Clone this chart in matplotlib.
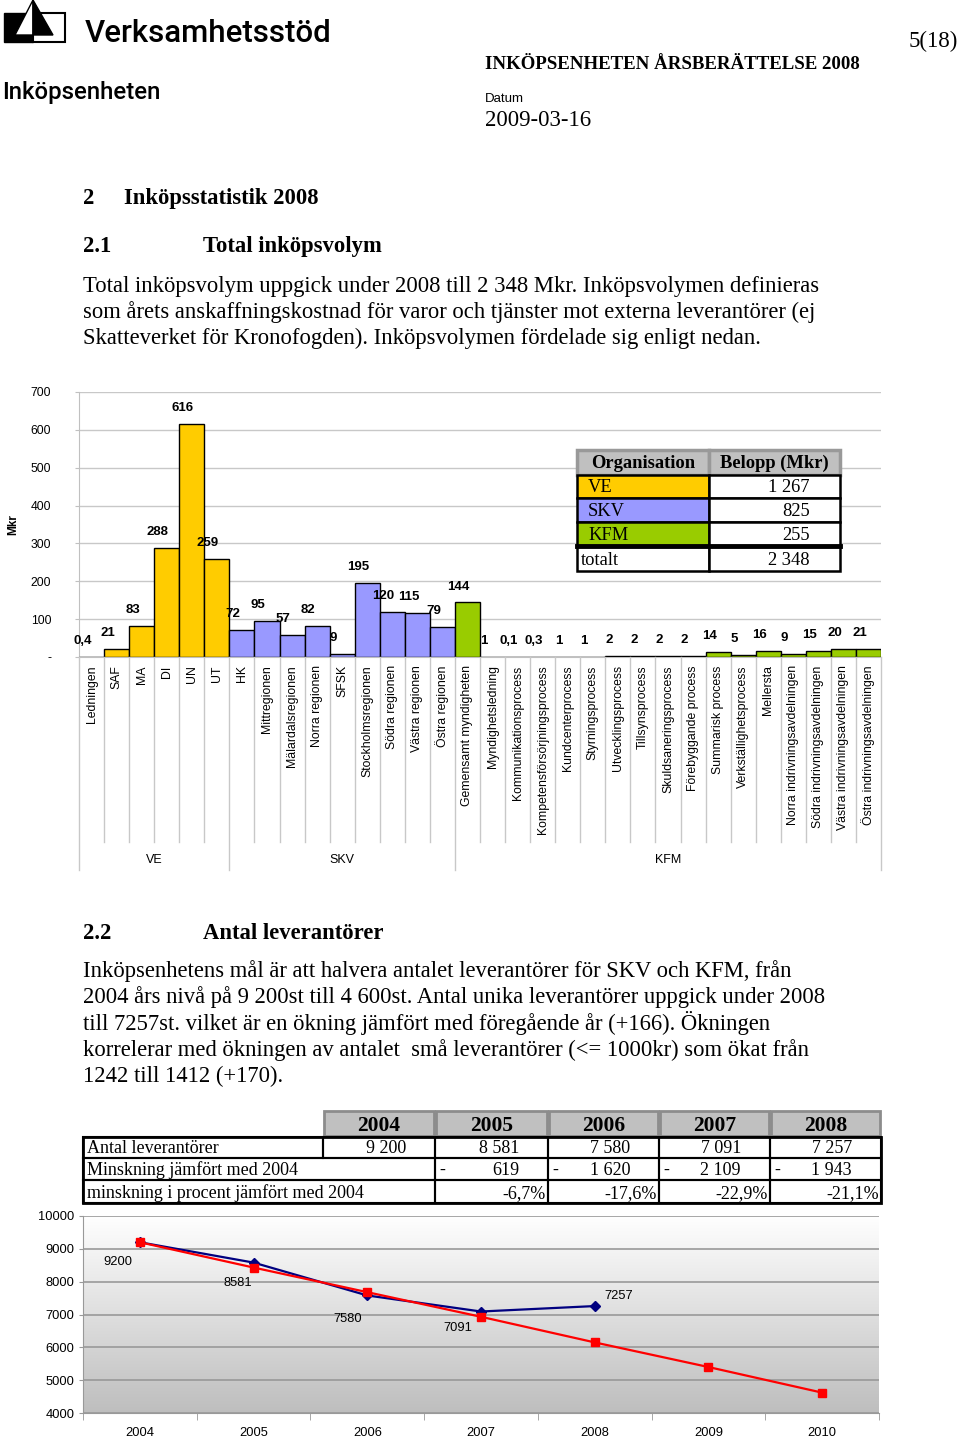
import numpy as np
import matplotlib
matplotlib.use("Agg")
import matplotlib.pyplot as plt
from matplotlib.patches import Rectangle, Polygon

# bar chart: inköpsvolym per enhet (Mkr)
ve_units = ["Ledningen", "SAF", "MA", "DI", "UN", "UT"]
ve_values = [0.4, 21, 83, 288, 616, 259]
skv_units = ["HK", "Mittregionen", "Mälardalsregionen", "Norra regionen", "SFSK",
             "Stockholmsregionen", "Södra regionen", "Västra regionen", "Östra regionen"]
skv_values = [72, 95, 57, 82, 9, 195, 120, 115, 79]
kfm_units = ["Gemensamt myndigheten", "Myndighetsledning", "Kommunikationsprocess",
             "Kompetensförsörjningsprocess", "Kundcenterprocess", "Styrningsprocess",
             "Utvecklingsprocess", "Tillsynsprocess", "Skuldsaneringsprocess",
             "Förebyggande process", "Summarisk process", "Verkställighetsprocess",
             "Mellersta", "Norra indrivningsavdelningen", "Södra indrivningsavdelningen",
             "Västra indrivningsavdelningen", "Östra indrivningsavdelningen"]
kfm_values = [144, 1, 0.1, 0.3, 1, 1, 2, 2, 2, 2, 14, 5, 16, 9, 15, 20, 21]

org_names = ["VE", "SKV", "KFM"]
org_amounts = ["1 267", "825", "255"]
org_total = "2 348"

# leverantörstabell
tab_years = ["2004", "2005", "2006", "2007", "2008"]
tab_suppliers = ["9 200", "8 581", "7 580", "7 091", "7 257"]
tab_decrease = ["619", "1 620", "2 109", "1 943"]
tab_decrease_pct = ["-6,7%", "-17,6%", "-22,9%", "-21,1%"]

# line chart
line_years = ["2004", "2005", "2006", "2007", "2008", "2009", "2010"]
actual = [9200, 8581, 7580, 7091, 7257]
target = [9200, 8430, 7680, 6930, 6150, 5400, 4620]

VE_C, SKV_C, KFM_C = "#FFCC00", "#9999FF", "#99CC00"
SERIF = "Liberation Serif"
SANS = "Liberation Sans"
BODY = 16.3

W, H = 960, 1440
fig = plt.figure(figsize=(9.6, 14.4), dpi=100)


def px_axes(x0, y0, x1, y1):
    return fig.add_axes([x0 / W, 1 - y1 / H, (x1 - x0) / W, (y1 - y0) / H])


def fmt(v):
    return str(int(v)) if v == int(v) else str(v).replace(".", ",")


# ---------------- bar chart ----------------
BL, BR, BT, BB = 79, 881, 392, 657
axb = px_axes(BL, BT, BR, BB)
units = ve_units + skv_units + kfm_units
vals = ve_values + skv_values + kfm_values
cols = [VE_C] * len(ve_units) + [SKV_C] * len(skv_units) + [KFM_C] * len(kfm_units)
x = np.arange(len(units))
axb.bar(x, vals, width=1.0, color=cols, edgecolor="black", linewidth=1, zorder=3)
axb.set_xlim(-0.5, len(units) - 0.5)
axb.set_ylim(0, 700)
axb.set_yticks(range(0, 701, 100))
axb.set_yticklabels(["-"] + [str(v) for v in range(100, 701, 100)], fontsize=8.7, family=SANS)
axb.yaxis.grid(True, color="#C8C8C8", lw=1)
axb.set_axisbelow(True)
for s in ["top", "right"]:
    axb.spines[s].set_visible(False)
axb.spines["left"].set_color("#C0C0C0")
axb.spines["bottom"].set_color("#C0C0C0")
axb.tick_params(axis="y", length=3, color="#C0C0C0", pad=17)
axb.set_xticks(x)
axb.set_xticklabels(units, rotation=90, fontsize=8.8, family=SANS)
axb.tick_params(axis="x", length=0, pad=6)
axb.set_ylabel("Mkr", fontsize=8.5, fontweight="bold", family=SANS)
axb.yaxis.set_label_coords(-0.075, 0.5)
for i, v in enumerate(vals):
    axb.annotate(fmt(v), (i, v), xytext=(-6.5, 11.5), textcoords="offset points",
                 ha="center", va="center", fontsize=9.5, fontweight="bold",
                 family=SANS, zorder=5)

# ---------------- line chart ----------------
axl = px_axes(83, 1216, 879, 1413)
grad = np.linspace(1, 0, 256).reshape(-1, 1)
axl.imshow(grad, extent=[-0.5, 6.5, 4000, 10000], aspect="auto",
           cmap=matplotlib.colors.LinearSegmentedColormap.from_list("g", ["#BEBEBE", "#FFFFFF"]),
           zorder=0)
axl.set_xlim(-0.5, 6.5)
axl.set_ylim(4000, 10000)
axl.set_yticks(range(4000, 10001, 1000))
axl.set_yticklabels([str(v) for v in range(4000, 10001, 1000)], fontsize=9.3, family=SANS)
axl.yaxis.grid(True, color="#999999", lw=1.2, zorder=1)
axl.set_xticks(range(len(line_years)))
axl.set_xticklabels(line_years, fontsize=9.3, family=SANS)
axl.set_xticks(np.arange(-0.5, 7, 1), minor=True)
axl.tick_params(axis="x", which="major", length=0, pad=10)
axl.tick_params(axis="x", which="minor", length=5, color="#999999")
axl.tick_params(axis="y", length=3, color="#999999", pad=3)
for s in ["top", "right"]:
    axl.spines[s].set_visible(False)
axl.spines["left"].set_color("#999999")
axl.spines["bottom"].set_color("#999999")
xa = np.arange(len(actual))
xt = np.arange(len(target))
axl.plot(xa, actual, color="#000080", lw=1.6, marker="D", ms=5, zorder=3)
axl.plot(xt, target, color="#FF0000", lw=1.6, marker="s", ms=6, zorder=4)
lab_off = [(-16, -14), (-11, -15), (-14, -17), (-17, -12), (17, 7)]
for i, v in enumerate(actual):
    axl.annotate(str(v), (i, v), xytext=lab_off[i], textcoords="offset points",
                 ha="center", va="center", fontsize=9.3, family=SANS)

# ---------------- overlay (page, tables, separators) ----------------
ov = fig.add_axes([0, 0, 1, 1])
ov.set_xlim(0, W)
ov.set_ylim(H, 0)
ov.axis("off")
ov.set_zorder(10)
ov.patch.set_alpha(0)

# logo
ov.add_patch(Rectangle((4, 13), 29, 29, facecolor="black", edgecolor="black", lw=1))
ov.add_patch(Rectangle((33, 13), 32, 29, facecolor="white", edgecolor="black", lw=1.5))
ov.add_patch(Polygon([(33, 0), (15, 35), (33, 35)], closed=True, facecolor="white",
                     edgecolor="black", lw=1))
ov.add_patch(Polygon([(33, 0), (53, 35), (33, 35)], closed=True, facecolor="black",
                     edgecolor="black", lw=1))

ov.text(85, 34, "Verksamhetsstöd", fontsize=22.5, family="Roboto", fontweight="medium",
        va="center", ha="left")
ov.text(2, 92, "Inköpsenheten", fontsize=17.3, family="Roboto", fontweight="medium",
        va="center", ha="left")
ov.text(485, 69, "INKÖPSENHETEN ÅRSBERÄTTELSE 2008", fontsize=13.6, family=SERIF,
        fontweight="bold", va="baseline")
ov.text(485, 102, "Datum", fontsize=9.5, family=SANS, va="baseline")
ov.text(485, 126, "2009-03-16", fontsize=16.4, family=SERIF, va="baseline")
ov.text(958, 47, "5(18)", fontsize=16.5, family=SERIF, va="baseline", ha="right")

ov.text(83, 204, "2", fontsize=BODY, family=SERIF, fontweight="bold", va="baseline")
ov.text(124, 204, "Inköpsstatistik 2008", fontsize=BODY, family=SERIF, fontweight="bold", va="baseline")
ov.text(83, 252, "2.1", fontsize=BODY, family=SERIF, fontweight="bold", va="baseline")
ov.text(203, 252, "Total inköpsvolym", fontsize=BODY, family=SERIF, fontweight="bold", va="baseline")
para1 = ["Total inköpsvolym uppgick under 2008 till 2 348 Mkr. Inköpsvolymen definieras",
         "som årets anskaffningskostnad för varor och tjänster mot externa leverantörer (ej",
         "Skatteverket för Kronofogden). Inköpsvolymen fördelade sig enligt nedan."]
for k, line in enumerate(para1):
    ov.text(83, 292 + 26 * k, line, fontsize=BODY, family=SERIF, va="baseline")

ov.text(83, 939, "2.2", fontsize=BODY, family=SERIF, fontweight="bold", va="baseline")
ov.text(203, 939, "Antal leverantörer", fontsize=BODY, family=SERIF, fontweight="bold", va="baseline")
para2 = ["Inköpsenhetens mål är att halvera antalet leverantörer för SKV och KFM, från",
         "2004 års nivå på 9 200st till 4 600st. Antal unika leverantörer uppgick under 2008",
         "till 7257st. vilket är en ökning jämfört med föregående år (+166). Ökningen",
         "korrelerar med ökningen av antalet  små leverantörer (<= 1000kr) som ökat från",
         "1242 till 1412 (+170)."]
for k, line in enumerate(para2):
    ov.text(83, 977 + 26.3 * k, line, fontsize=BODY, family=SERIF, va="baseline")

# category separators below the bar axis
n = len(units)
cw = (BR - BL) / n
bounds = [len(ve_units), len(ve_units) + len(skv_units)]
for k in range(n + 1):
    xx = BL + k * cw
    long = k in (0, n) or k in bounds
    ov.plot([xx, xx], [BB, 870 if long else 842], color="#C8C8C8", lw=1)
grp = [("VE", 0, bounds[0]), ("SKV", bounds[0], bounds[1]), ("KFM", bounds[1], n)]
for name, a, b in grp:
    ov.text(BL + (a + b) / 2 * cw, 860, name, fontsize=9, family=SANS, ha="center", va="center")

# organisation table inside bar chart
tx = [577, 709, 840]
ty = [450, 475, 498, 522, 546, 571]
ov.add_patch(Rectangle((tx[0], ty[0]), tx[1] - tx[0], ty[1] - ty[0], facecolor="#C0C0C0",
                       edgecolor="#999999", lw=2.5))
ov.add_patch(Rectangle((tx[1], ty[0]), tx[2] - tx[1], ty[1] - ty[0], facecolor="#C0C0C0",
                       edgecolor="#999999", lw=2.5))
ov.text((tx[0] + tx[1]) / 2, 468, "Organisation", fontsize=13.3, family=SERIF,
        fontweight="bold", ha="center", va="baseline")
ov.text((tx[1] + tx[2]) / 2, 468, "Belopp (Mkr)", fontsize=13.3, family=SERIF,
        fontweight="bold", ha="center", va="baseline")
row_cols = [VE_C, SKV_C, KFM_C, "white"]
row_names = org_names + ["totalt"]
row_vals = org_amounts + [org_total]
for r in range(4):
    y0, y1 = ty[r + 1], ty[r + 2]
    ov.add_patch(Rectangle((tx[0], y0), tx[1] - tx[0], y1 - y0, facecolor=row_cols[r],
                           edgecolor="black", lw=1.8))
    ov.add_patch(Rectangle((tx[1], y0), tx[2] - tx[1], y1 - y0, facecolor="white",
                           edgecolor="black", lw=1.8))
    xn = 581 if r == 3 else 588
    ov.text(xn, y1 - 6, row_names[r], fontsize=13.3, family=SERIF, va="baseline")
    ov.text(810, y1 - 6, row_vals[r], fontsize=13.3, family=SERIF, va="baseline", ha="right")
ov.plot([tx[0], tx[2]], [ty[4], ty[4]], color="black", lw=3.5)

# supplier table
cx = [83, 323, 435, 548, 659, 770, 881]
ry = [1110, 1137, 1158, 1180, 1203]
for j, yr in enumerate(tab_years):
    ov.add_patch(Rectangle((cx[j + 1] + 1, ry[0] + 1), cx[j + 2] - cx[j + 1] - 2, ry[1] - ry[0] - 2,
                           facecolor="#C0C0C0", edgecolor="#8C8C8C", lw=2))
    ov.text((cx[j + 1] + cx[j + 2]) / 2, ry[1] - 6, yr, fontsize=15.5, family=SERIF,
            fontweight="bold", ha="center", va="baseline")
# row 1
ov.add_patch(Rectangle((cx[0], ry[1]), cx[1] - cx[0], ry[2] - ry[1], facecolor="none",
                       edgecolor="black", lw=1.5))
ov.text(cx[0] + 4, ry[2] - 5, "Antal leverantörer", fontsize=13, family=SERIF, va="baseline")
for j, v in enumerate(tab_suppliers):
    ov.add_patch(Rectangle((cx[j + 1], ry[1]), cx[j + 2] - cx[j + 1], ry[2] - ry[1],
                           facecolor="none", edgecolor="black", lw=1.5))
    ov.text(cx[j + 2] - 29, ry[2] - 5, v, fontsize=13, family=SERIF, va="baseline", ha="right")
# rows 2 and 3
labels23 = ["Minskning jämfört med 2004", "minskning i procent jämfört med 2004"]
for r in range(2):
    y0, y1 = ry[2 + r], ry[3 + r]
    ov.add_patch(Rectangle((cx[0], y0), cx[2] - cx[0], y1 - y0, facecolor="none",
                           edgecolor="black", lw=1.5))
    ov.text(cx[0] + 4, y1 - 5, labels23[r], fontsize=13, family=SERIF, va="baseline")
    for j in range(4):
        a, b = cx[j + 2], cx[j + 3]
        ov.add_patch(Rectangle((a, y0), b - a, y1 - y0, facecolor="none",
                               edgecolor="black", lw=1.5))
        if r == 0:
            ov.text(a + 4, y1 - 5, "-", fontsize=13, family=SERIF, va="baseline")
            ov.text(b - 29, y1 - 5, tab_decrease[j], fontsize=13, family=SERIF,
                    va="baseline", ha="right")
        else:
            ov.text(b - 2, y1 - 5, tab_decrease_pct[j], fontsize=13, family=SERIF,
                    va="baseline", ha="right")
ov.add_patch(Rectangle((cx[0], ry[1]), cx[-1] - cx[0], ry[-1] - ry[1], facecolor="none",
                       edgecolor="black", lw=2))

fig.savefig("out.png", dpi=100)
